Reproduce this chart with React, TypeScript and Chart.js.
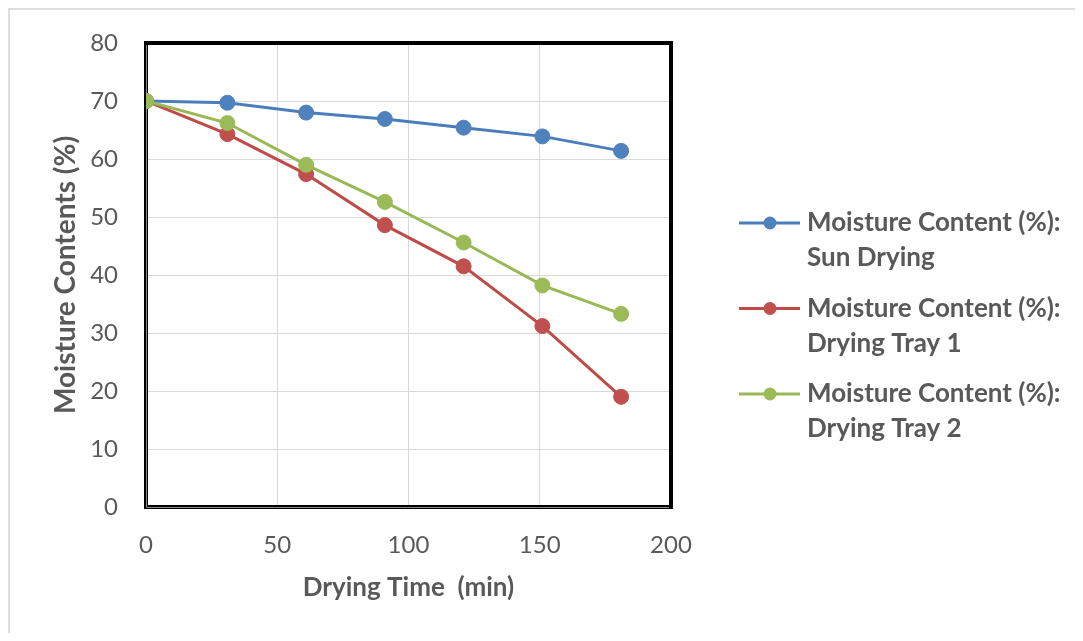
import React, { useEffect, useRef } from "react";
import { Chart, registerables } from "chart.js";

Chart.register(...registerables);

// ---- data ----
const dryingTimeMin = [0, 31, 61, 91, 121, 151, 181];
const sunDrying = [70, 69.7, 68.0, 66.9, 65.4, 63.9, 61.4];
const dryingTray1 = [70, 64.3, 57.4, 48.6, 41.5, 31.2, 19.0];
const dryingTray2 = [70, 66.2, 59.0, 52.6, 45.6, 38.2, 33.3];

const seriesLabels = [
  ["Moisture Content (%):", "Sun Drying"],
  ["Moisture Content (%):", "Drying Tray 1"],
  ["Moisture Content (%):", "Drying Tray 2"],
];
const lineColors = ["#4A7EBB", "#BE4B48", "#98B954"];
const markerColors = ["#4F81BD", "#C0504D", "#9BBB59"];

const xAxisTitle = "Drying Time  (min)";
const yAxisTitle = "Moisture Contents (%)";

const FONT = "Lato, 'Open Sans', sans-serif";
const TEXT_COLOR = "#595959";

export default function App() {
  const ref = useRef<HTMLCanvasElement | null>(null);

  useEffect(() => {
    if (!ref.current) return;

    const plotFrame = {
      id: "plotFrame",
      beforeDatasetsDraw(chart: any) {
        const { ctx, chartArea: a } = chart;
        ctx.save();
        ctx.strokeStyle = "#000000";
        ctx.lineWidth = 4;
        ctx.strokeRect(a.left, a.top, a.right - a.left, a.bottom - a.top);
        ctx.strokeStyle = "#8a8a8a";
        ctx.lineWidth = 1;
        ctx.beginPath();
        ctx.moveTo(a.left + 0.5, a.top + 2);
        ctx.lineTo(a.left + 0.5, a.bottom + 0.5);
        ctx.lineTo(a.right - 2, a.bottom + 0.5);
        ctx.stroke();
        ctx.restore();
      },
    };

    const sideLegend = {
      id: "sideLegend",
      afterDraw(chart: any) {
        const { ctx } = chart;
        ctx.save();
        const startY = 213;
        const itemGap = 85.5;
        const lineGap = 35;
        chart.data.datasets.forEach((ds: any, i: number) => {
          const y = startY + i * itemGap;
          ctx.strokeStyle = lineColors[i];
          ctx.lineWidth = 3;
          ctx.beginPath();
          ctx.moveTo(729, y);
          ctx.lineTo(790, y);
          ctx.stroke();
          ctx.fillStyle = markerColors[i];
          ctx.beginPath();
          ctx.arc(760, y, 6.5, 0, Math.PI * 2);
          ctx.fill();
          ctx.fillStyle = TEXT_COLOR;
          ctx.font = `bold 26px ${FONT}`;
          ctx.textAlign = "left";
          ctx.textBaseline = "middle";
          seriesLabels[i].forEach((t, j) => {
            ctx.fillText(t, 797, y + j * lineGap);
          });
        });
        ctx.restore();
      },
    };

    const makeDs = (label: string, values: number[], i: number, order: number) => ({
      label,
      data: dryingTimeMin.map((x, k) => ({ x, y: values[k] })),
      borderColor: lineColors[i],
      backgroundColor: markerColors[i],
      pointBackgroundColor: markerColors[i],
      pointBorderColor: markerColors[i],
      pointBorderWidth: 1,
      pointRadius: 7.5,
      borderWidth: 3,
      tension: 0,
      order,
    });

    const chart = new Chart(ref.current, {
      type: "line",
      data: {
        datasets: [
          makeDs(seriesLabels[0].join(" "), sunDrying, 0, 2),
          makeDs(seriesLabels[1].join(" "), dryingTray1, 1, 1),
          makeDs(seriesLabels[2].join(" "), dryingTray2, 2, 0),
        ],
      },
      options: {
        responsive: false,
        animation: false,
        layout: { autoPadding: false, padding: { top: 33, right: 404, bottom: 0, left: 0 } },
        plugins: {
          legend: { display: false },
          tooltip: { enabled: false },
        },
        scales: {
          x: {
            type: "linear",
            min: 0,
            max: 200,
            ticks: {
              stepSize: 50,
              padding: 23.6,
              color: TEXT_COLOR,
              font: { family: FONT, size: 24 },
            },
            grid: { color: "#d9d9d9", lineWidth: 1, drawTicks: false },
            border: { display: false },
            title: {
              display: true,
              text: xAxisTitle,
              color: TEXT_COLOR,
              font: { family: FONT, size: 26, weight: "bold" },
              padding: { top: 0, bottom: 29.4 },
            },
            afterFit(scale: any) {
              scale.height = 126;
            },
          },
          y: {
            min: 0,
            max: 80,
            ticks: {
              stepSize: 10,
              padding: 0,
              color: TEXT_COLOR,
              font: { family: FONT, size: 24 },
            },
            grid: {
              color: "#d9d9d9",
              lineWidth: 1,
              drawTicks: true,
              tickLength: 28,
              tickColor: "rgba(0,0,0,0)",
            },
            border: { display: false },
            title: {
              display: true,
              text: yAxisTitle,
              color: TEXT_COLOR,
              font: { family: FONT, size: 28, weight: "bold" },
              padding: { top: 39.2, bottom: 0 },
            },
            afterFit(scale: any) {
              scale.width = 136;
            },
          },
        },
      },
      plugins: [plotFrame, sideLegend],
    } as any);

    return () => chart.destroy();
  }, []);

  return (
    <div
      style={{
        width: 1067,
        height: 625,
        boxSizing: "border-box",
        borderTop: "2px solid #dedede",
        borderLeft: "2px solid #dedede",
        background: "#ffffff",
      }}
    >
      <canvas ref={ref} width={1065} height={623} style={{ display: "block" }} />
    </div>
  );
}
